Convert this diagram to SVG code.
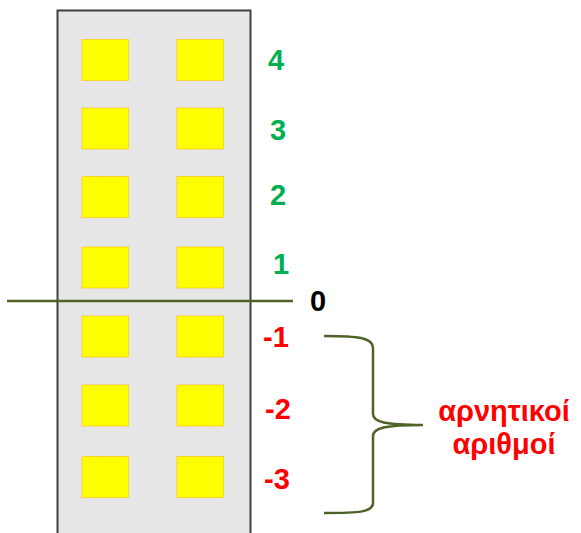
<svg xmlns="http://www.w3.org/2000/svg" width="581" height="533" viewBox="0 0 581 533">
<style>
.win{fill:#ffff00;stroke:#ffc000;stroke-width:1;stroke-opacity:0.6}
.lbl{font-family:"Liberation Sans",Arial,sans-serif;font-weight:bold;font-size:29px;text-anchor:middle}
.pos{fill:#00b050}
.neg{fill:#ff0000}
.ln{fill:none;stroke:#4f6228;stroke-width:2.5}
</style>
<rect width="581" height="533" fill="#ffffff"/>
<g id="building">
<rect x="57.5" y="10.5" width="193" height="540" fill="#e6e6e6" stroke="#404040" stroke-width="2"/>
<rect class="win" x="82" y="39.5" width="46.5" height="41"/>
<rect class="win" x="177" y="39.5" width="46.5" height="41"/>
<rect class="win" x="82" y="108" width="46.5" height="41"/>
<rect class="win" x="177" y="108" width="46.5" height="41"/>
<rect class="win" x="82" y="176.5" width="46.5" height="41"/>
<rect class="win" x="177" y="176.5" width="46.5" height="41"/>
<rect class="win" x="82" y="247" width="46.5" height="41"/>
<rect class="win" x="177" y="247" width="46.5" height="41"/>
<rect class="win" x="82" y="316" width="46.5" height="41"/>
<rect class="win" x="177" y="316" width="46.5" height="41"/>
<rect class="win" x="82" y="385" width="46.5" height="41"/>
<rect class="win" x="177" y="385" width="46.5" height="41"/>
<rect class="win" x="82" y="456.5" width="46.5" height="41"/>
<rect class="win" x="177" y="456.5" width="46.5" height="41"/>
</g>
<g id="connectors">
<line class="ln" x1="7" y1="301" x2="293" y2="301"/>
<path class="ln" d="M324,336 C360,336 373,338 373,348 L373,414 C373,422 385,425 423,425 C385,425 373,428 373,436 L373,503 C373,512 360,513 324,513"/>
</g>
<g id="labels">
<text class="lbl pos" x="276" y="70">4</text>
<text class="lbl pos" x="278" y="140">3</text>
<text class="lbl pos" x="278" y="205">2</text>
<text class="lbl pos" x="281" y="274">1</text>
<text class="lbl" x="318" y="311" fill="#000000">0</text>
<text class="lbl neg" x="276" y="347">-1</text>
<text class="lbl neg" x="278" y="419">-2</text>
<text class="lbl neg" x="277" y="489">-3</text>
<text class="lbl neg" x="504" y="421" font-size="30">αρνητικοί</text>
<text class="lbl neg" x="504" y="454" font-size="30">αριθμοί</text>
</g>
</svg>
